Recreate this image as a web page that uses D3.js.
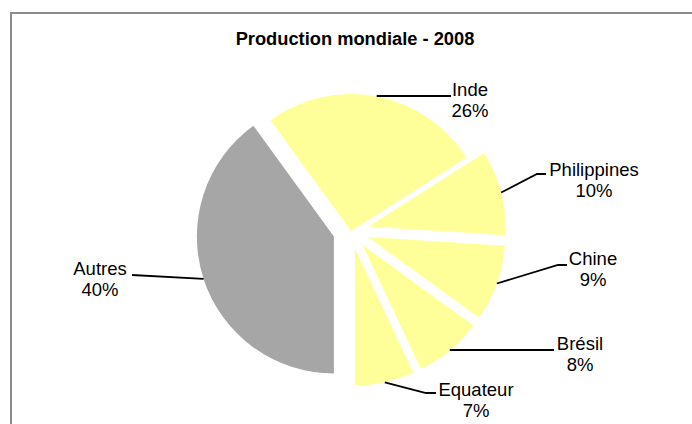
<!DOCTYPE html>
<html>
<head>
<meta charset="utf-8">
<script src="https://cdn.jsdelivr.net/npm/d3@7"></script>
<style>
  body { margin: 0; background: #fff; }
  svg text { font-family: Arial, "Liberation Sans", sans-serif; fill: #000; }
</style>
</head>
<body>
<svg width="692" height="424"></svg>
<script>
// data
const countries = ["Inde", "Philippines", "Chine", "Brésil", "Equateur", "Autres"];
const shares = [26, 10, 9, 8, 7, 40];
const title = "Production mondiale - 2008";

// label layout: text centre / first baseline, and where the leader line meets the label
const labelPos = {
  "Inde":        { tx: 470, ty: 96,  elbow: [451, 96],  end: [451, 96] },
  "Philippines": { tx: 594, ty: 176, elbow: [537, 174], end: [546, 174] },
  "Chine":       { tx: 593, ty: 265, elbow: [558, 265], end: [567, 265] },
  "Brésil":      { tx: 580, ty: 350, elbow: [554, 350], end: [554, 350] },
  "Equateur":    { tx: 476, ty: 396, elbow: [426, 393], end: [436, 393] },
  "Autres":      { tx: 100, ty: 275, elbow: [132, 275], end: [132, 275] }
};

const svg = d3.select("svg");
const cx = 351, cy = 231, radius = 137, explode = 18;

// chart area border (cut off at right and bottom like the original)
svg.append("path")
  .attr("d", "M11,424 V13 H692")
  .attr("fill", "none")
  .attr("stroke", "#8c8c8c")
  .attr("stroke-width", 2);

svg.append("text")
  .attr("x", 355).attr("y", 45)
  .attr("text-anchor", "middle")
  .style("font-size", "18.3px")
  .style("font-weight", "bold")
  .text(title);

const data = countries.map((c, i) => ({ name: c, value: shares[i] }));

const pie = d3.pie()
  .sort(null)
  .value(d => d.value)
  .startAngle(-0.2 * Math.PI)
  .endAngle(1.8 * Math.PI);

const arcs = pie(data);
const arc = d3.arc().innerRadius(0).outerRadius(radius);

const color = d => d.data.name === "Autres" ? "#a6a6a6" : "#ffff99";

function offset(d) {
  if (d.data.name === "Inde") return [0, 0];
  const a = (d.startAngle + d.endAngle) / 2;
  return [explode * Math.sin(a), -explode * Math.cos(a)];
}

const g = svg.append("g").attr("transform", `translate(${cx},${cy})`);

g.selectAll("path.slice")
  .data(arcs)
  .enter()
  .append("path")
    .attr("class", "slice")
    .attr("d", arc)
    .attr("fill", color)
    .attr("transform", d => `translate(${offset(d)})`);

// leader lines from the middle of each arc to its label
g.selectAll("polyline")
  .data(arcs)
  .enter()
  .append("polyline")
    .attr("fill", "none")
    .attr("stroke", "#000")
    .attr("stroke-width", 1.8)
    .attr("points", d => {
      const a = (d.startAngle + d.endAngle) / 2;
      const o = offset(d);
      const p = labelPos[d.data.name];
      const start = [o[0] + radius * Math.sin(a), o[1] - radius * Math.cos(a)];
      if (p.elbow[1] === p.end[1] && p.elbow[0] === p.end[0] && Math.abs(start[1] + cy - p.end[1]) < 2) {
        start[1] = p.end[1] - cy; // keep straight leaders level
      }
      return [start, [p.elbow[0] - cx, p.elbow[1] - cy], [p.end[0] - cx, p.end[1] - cy]].join(" ");
    });

const labels = svg.selectAll("text.lbl")
  .data(arcs)
  .enter()
  .append("text")
    .attr("class", "lbl")
    .attr("text-anchor", "middle")
    .style("font-size", "18.5px");

labels.append("tspan")
  .attr("x", d => labelPos[d.data.name].tx)
  .attr("y", d => labelPos[d.data.name].ty)
  .text(d => d.data.name);

labels.append("tspan")
  .attr("x", d => labelPos[d.data.name].tx)
  .attr("y", d => labelPos[d.data.name].ty + 21)
  .text(d => d.data.value + "%");
</script>
</body>
</html>
